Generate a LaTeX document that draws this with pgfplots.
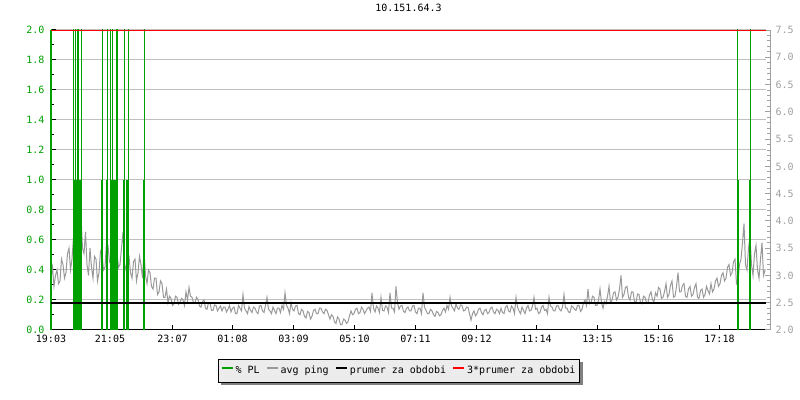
\documentclass[border=0pt]{standalone}
\usepackage{pgfplots}
\pgfplotsset{compat=1.18}
\usepackage{fontspec}
\setmonofont{DejaVu Sans Mono}
\pgfdeclarelayer{bg}
\pgfsetlayers{bg,main}
\definecolor{plgreen}{RGB}{0,160,0}
\definecolor{pinggray}{RGB}{153,153,153}
\definecolor{gridgray}{RGB}{192,192,192}
\definecolor{rlabel}{RGB}{160,160,160}
\definecolor{legfill}{RGB}{236,236,236}
\definecolor{shadowgray}{RGB}{128,128,128}
\newcommand{\monofont}{\ttfamily\fontsize{10bp}{12bp}\selectfont}
\begin{document}
\begin{tikzpicture}
\path[use as bounding box] (0bp,0bp) rectangle (800bp,400bp);
\pgfplotsset{
  base/.style={
    at={(51bp,70bp)}, anchor=south west,
    width=715bp, height=300bp, scale only axis,
    xmin=0, xmax=1430,
    /pgf/number format/assume math mode=true,
    tick label style={font=\monofont},
    major tick length=5bp, minor tick length=3bp,
  }
}
% Axis A: grid, left axis, time axis, title
\begin{axis}[base, ymin=0, ymax=2,
  axis x line=bottom, axis y line=left, axis line style={-},
  x axis line style={black, line width=1bp},
  y axis line style={plgreen, line width=2bp},
  xtick align=inside, ytick align=inside,
  xtick={0,118,243,363,485,607,729,851,971,1093,1215,1337},
  xticklabels={19:03,21:05,23:07,01:08,03:09,05:10,07:11,09:12,11:14,13:15,15:16,17:18},
  xtick style={black, line width=1bp},
  xticklabel style={black, yshift=-2bp},
  ytick={0,0.2,...,2.01},
  minor ytick={0.1,0.3,...,1.91},
  ytick style={black, line width=1bp},
  minor y tick style={black, line width=1bp},
  yticklabel style={plgreen, xshift=-3bp, /pgf/number format/.cd, fixed, fixed zerofill, precision=1},
  ymajorgrids, major grid style={gridgray, line width=1bp},
  title={10.151.64.3}, title style={font=\monofont, at={(0.5,1)}, anchor=base, yshift=13bp},
]
\end{axis}
% Axis B: avg ping on right axis
\begin{axis}[base, width=719bp, xmax=1438, ymin=2, ymax=7.5,
  axis x line=none, axis y line=right, axis line style={-},
  y axis line style={rlabel, line width=1bp},
  ytick align=inside,
  ytick={2,2.5,...,7.51},
  minor tick num=4,
  ytick style={rlabel, line width=1bp},
  minor y tick style={rlabel, line width=1bp},
  yticklabel style={rlabel, xshift=2bp, /pgf/number format/.cd, fixed, fixed zerofill, precision=1},
]
\addplot[pinggray, line width=1bp] coordinates {
(0,2.95) (3,3.15) (6,2.8) (9,3.0) (12,3.1) (15,2.85) (18,2.9) (21,3.3) (24,3.2) (27,2.95)
(30,3.05) (33,3.4) (36,3.5) (39,3.1) (42,3.3) (45,3.7) (48,4.5) (51,3.5) (54,3.6) (57,4.2)
(60,4.1) (63,3.5) (66,3.4) (69,3.8) (72,3.2) (75,3.0) (78,3.5) (81,3.15) (84,2.95) (87,3.35)
(90,3.3) (93,2.9) (96,3.05) (99,3.45) (102,3.4) (105,3.1) (108,3.15) (111,3.6) (114,3.55) (117,3.25)
(120,3.3) (123,3.6) (126,4.0) (129,3.3) (132,3.4) (135,3.15) (138,3.2) (141,3.5) (144,3.8) (147,3.2)
(150,3.1) (153,3.45) (156,3.35) (159,3.05) (162,2.95) (165,3.25) (168,3.3) (171,2.9) (174,3.05) (177,3.35)
(180,3.2) (183,2.95) (186,3.45) (189,3.0) (192,2.85) (195,3.1) (198,3.05) (201,2.8) (204,2.75) (207,2.95)
(210,2.95) (213,2.65) (216,2.7) (219,2.9) (222,2.85) (225,2.6) (228,2.6) (231,2.75) (234,2.5) (237,2.62)
(240,2.58) (243,2.45) (246,2.48) (249,2.62) (252,2.6) (255,2.47) (258,2.5) (261,2.58) (264,2.55) (267,2.45)
(270,2.7) (273,2.55) (276,2.78) (279,2.62) (282,2.6) (285,2.5) (288,2.5) (291,2.6) (294,2.56) (297,2.44)
(300,2.42) (303,2.52) (306,2.55) (309,2.4) (312,2.38) (315,2.5) (318,2.5) (321,2.36) (324,2.36) (327,2.46)
(330,2.45) (333,2.35) (336,2.4) (339,2.44) (342,2.35) (345,2.42) (348,2.42) (351,2.33) (354,2.38) (357,2.45)
(360,2.33) (363,2.4) (366,2.42) (369,2.3) (372,2.3) (375,2.45) (378,2.4) (381,2.35) (384,2.65) (387,2.4)
(390,2.35) (393,2.3) (396,2.43) (399,2.36) (402,2.32) (405,2.42) (408,2.4) (411,2.33) (414,2.3) (417,2.44)
(420,2.45) (423,2.35) (426,2.32) (429,2.45) (432,2.6) (435,2.38) (438,2.35) (441,2.3) (444,2.42) (447,2.36)
(450,2.3) (453,2.4) (456,2.4) (459,2.32) (462,2.45) (465,2.38) (468,2.68) (471,2.45) (474,2.4) (477,2.3)
(480,2.5) (483,2.38) (486,2.35) (489,2.44) (492,2.45) (495,2.3) (498,2.28) (501,2.38) (504,2.35) (507,2.25)
(510,2.22) (513,2.34) (516,2.32) (519,2.2) (522,2.25) (525,2.36) (528,2.38) (531,2.3) (534,2.3) (537,2.4)
(540,2.4) (543,2.33) (546,2.3) (549,2.38) (552,2.36) (555,2.28) (558,2.2) (561,2.28) (564,2.25) (567,2.15)
(570,2.12) (573,2.24) (576,2.2) (579,2.1) (582,2.1) (585,2.2) (588,2.18) (591,2.12) (594,2.15) (597,2.26)
(600,2.35) (603,2.28) (606,2.3) (609,2.38) (612,2.4) (615,2.3) (618,2.32) (621,2.42) (624,2.38) (627,2.3)
(630,2.35) (633,2.4) (636,2.42) (639,2.34) (642,2.68) (645,2.4) (648,2.33) (651,2.44) (654,2.4) (657,2.32)
(660,2.6) (663,2.36) (666,2.35) (669,2.44) (672,2.42) (675,2.32) (678,2.68) (681,2.4) (684,2.4) (687,2.33)
(690,2.8) (693,2.5) (696,2.38) (699,2.44) (702,2.45) (705,2.34) (708,2.32) (711,2.4) (714,2.42) (717,2.35)
(720,2.35) (723,2.44) (726,2.45) (729,2.33) (732,2.3) (735,2.4) (738,2.4) (741,2.3) (744,2.68) (747,2.42)
(750,2.36) (753,2.3) (756,2.3) (759,2.38) (762,2.35) (765,2.28) (768,2.25) (771,2.34) (774,2.32) (777,2.26)
(780,2.28) (783,2.36) (786,2.4) (789,2.33) (792,2.45) (795,2.38) (798,2.6) (801,2.44) (804,2.4) (807,2.35)
(810,2.48) (813,2.4) (816,2.38) (819,2.46) (822,2.45) (825,2.35) (828,2.36) (831,2.42) (834,2.42) (837,2.3)
(840,2.18) (843,2.3) (846,2.35) (849,2.26) (852,2.3) (855,2.38) (858,2.4) (861,2.32) (864,2.28) (867,2.36)
(870,2.38) (873,2.3) (876,2.32) (879,2.4) (882,2.42) (885,2.33) (888,2.3) (891,2.38) (894,2.36) (897,2.3)
(900,2.4) (903,2.32) (906,2.3) (909,2.42) (912,2.45) (915,2.35) (918,2.33) (921,2.44) (924,2.4) (927,2.3)
(930,2.6) (933,2.42) (936,2.35) (939,2.3) (942,2.42) (945,2.36) (948,2.3) (951,2.4) (954,2.45) (957,2.35)
(960,2.36) (963,2.44) (966,2.6) (969,2.38) (972,2.4) (975,2.3) (978,2.32) (981,2.42) (984,2.45) (987,2.36)
(990,2.38) (993,2.3) (996,2.6) (999,2.44) (1002,2.42) (1005,2.35) (1008,2.35) (1011,2.44) (1014,2.45) (1017,2.38)
(1020,2.35) (1023,2.42) (1026,2.65) (1029,2.4) (1032,2.4) (1035,2.33) (1038,2.32) (1041,2.44) (1044,2.42) (1047,2.38)
(1050,2.36) (1053,2.45) (1056,2.45) (1059,2.34) (1062,2.38) (1065,2.5) (1068,2.55) (1071,2.45) (1074,2.75) (1077,2.48)
(1080,2.5) (1083,2.62) (1086,2.6) (1089,2.45) (1092,2.45) (1095,2.55) (1098,2.75) (1101,2.5) (1104,2.4) (1107,2.52)
(1110,2.48) (1113,2.62) (1116,2.8) (1119,2.5) (1122,2.55) (1125,2.68) (1128,2.7) (1131,2.55) (1134,2.6) (1137,2.75)
(1140,3.0) (1143,2.6) (1146,2.65) (1149,2.78) (1152,2.8) (1155,2.6) (1158,2.55) (1161,2.7) (1164,2.7) (1167,2.52)
(1170,2.5) (1173,2.66) (1176,2.65) (1179,2.5) (1182,2.48) (1185,2.62) (1188,2.6) (1191,2.5) (1194,2.5) (1197,2.64)
(1200,2.7) (1203,2.55) (1206,2.52) (1209,2.68) (1212,2.62) (1215,2.78) (1218,2.75) (1221,2.58) (1224,2.6) (1227,2.7)
(1230,2.85) (1233,2.6) (1236,2.65) (1239,2.82) (1242,2.9) (1245,2.6) (1248,2.62) (1251,2.8) (1254,3.05) (1257,2.7)
(1260,2.7) (1263,2.82) (1266,2.85) (1269,2.62) (1272,2.6) (1275,2.75) (1278,2.8) (1281,2.62) (1284,2.65) (1287,2.78)
(1290,2.85) (1293,2.6) (1296,2.58) (1299,2.72) (1302,2.75) (1305,2.6) (1308,2.65) (1311,2.8) (1314,2.72) (1317,2.66)
(1320,2.85) (1323,2.7) (1326,2.75) (1329,2.9) (1332,2.95) (1335,2.8) (1338,2.85) (1341,3.0) (1344,3.05) (1347,2.9)
(1350,2.95) (1353,3.15) (1356,3.2) (1359,3.0) (1362,3.05) (1365,3.25) (1368,3.3) (1371,2.85) (1374,2.9) (1377,3.2)
(1380,3.3) (1383,3.6) (1386,3.95) (1389,3.2) (1392,3.1) (1395,3.5) (1398,3.7) (1401,3.2) (1404,3.0) (1407,3.4)
(1410,3.55) (1413,3.1) (1416,2.95) (1419,3.3) (1422,3.6) (1425,3.0) (1428,3.1)
};
\end{axis}
% Axis C: packet loss, averages, legend
\begin{axis}[base, ymin=0, ymax=2, hide axis,
  legend style={name=leg, at={(0.4867,-0.0967)}, anchor=north, legend columns=-1,
    draw=black, fill=legfill, font=\monofont,
    inner xsep=2bp, inner ysep=5bp,
    /tikz/every even column/.append style={column sep=4bp}},
  legend image code/.code={\draw[#1, line width=2bp] (0bp,3bp) -- (11bp,3bp);},
]
\addplot[plgreen, line width=1bp, ycomb, forget plot] coordinates {
(0,3) (44.6,3) (48.6,3) (53,3) (54.6,3) (60.6,3) (102.6,3) (112.6,3) (118.6,3) (122.6,3)
(131,3) (132.6,3) (146.6,3) (154,3) (186.6,3) (1373.4,3) (1398.6,3)
};
\addplot[plgreen, line width=2bp, ycomb, forget plot] coordinates {
(0,1) (45,1) (48,1) (51,1) (54,1) (57,1) (60,1) (101.6,1) (111.4,1) (119,1) (122,1) (125,1)
(129.6,1) (132.6,1) (145.4,1) (151.6,1) (153.6,1) (186.4,1) (1373.4,1) (1398.6,1)
};
\addplot[black, line width=2bp, forget plot] coordinates {(0,0.1818) (1430,0.1818)};
\addplot[red, line width=1bp, forget plot] coordinates {(0,1.997) (1430,1.997)};
\addlegendimage{plgreen}
\addlegendimage{pinggray}
\addlegendimage{black}
\addlegendimage{red}
\legend{\% PL,avg ping,prumer za obdobi,3*prumer za obdobi}
\end{axis}
\begin{pgfonlayer}{bg}
\fill[shadowgray] ([xshift=3bp,yshift=-3bp]leg.south west) rectangle ([xshift=3bp,yshift=-3bp]leg.north east);
\end{pgfonlayer}
\end{tikzpicture}
\end{document}
